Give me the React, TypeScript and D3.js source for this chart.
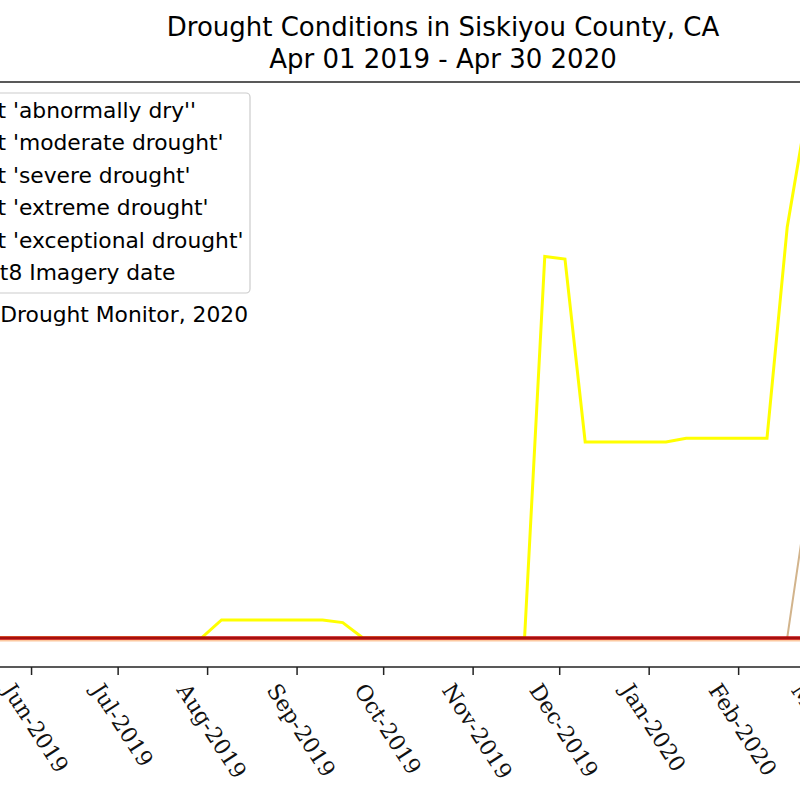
import React, { useEffect, useRef } from 'react';
import * as d3 from 'd3';

// weekly US Drought Monitor dates (Tuesdays)
const weekDates = [
  '2019-04-02', '2019-04-09', '2019-04-16', '2019-04-23', '2019-04-30',
  '2019-05-07', '2019-05-14', '2019-05-21', '2019-05-28',
  '2019-06-04', '2019-06-11', '2019-06-18', '2019-06-25',
  '2019-07-02', '2019-07-09', '2019-07-16', '2019-07-23', '2019-07-30',
  '2019-08-06', '2019-08-13', '2019-08-20', '2019-08-27',
  '2019-09-03', '2019-09-10', '2019-09-17', '2019-09-24',
  '2019-10-01', '2019-10-08', '2019-10-15', '2019-10-22', '2019-10-29',
  '2019-11-05', '2019-11-12', '2019-11-19', '2019-11-26',
  '2019-12-03', '2019-12-10', '2019-12-17', '2019-12-24', '2019-12-31',
  '2020-01-07', '2020-01-14', '2020-01-21', '2020-01-28',
  '2020-02-04', '2020-02-11', '2020-02-18', '2020-02-25',
];

// percent of county area in each category
const abnormallyDry = [
  0, 0, 0, 0, 0,
  0, 0, 0, 0,
  0, 0, 0, 0,
  0, 0, 0, 0, 0,
  3.4, 3.4, 3.4, 3.4,
  3.4, 3.4, 2.9, 0,
  0, 0, 0, 0, 0,
  0, 0, 0, 72,
  71.5, 37, 37, 37, 37,
  37, 37.7, 37.7, 37.7,
  37.7, 37.7, 77.5, 100,
];
const moderateDrought = [
  0, 0, 0, 0, 0,
  0, 0, 0, 0,
  0, 0, 0, 0,
  0, 0, 0, 0, 0,
  0, 0, 0, 0,
  0, 0, 0, 0,
  0, 0, 0, 0, 0,
  0, 0, 0, 0,
  0, 0, 0, 0, 0,
  0, 0, 0, 0,
  0, 0, 0, 26,
];
const severeDrought = weekDates.map(() => 0);
const extremeDrought = weekDates.map(() => 0);
const exceptionalDrought = weekDates.map(() => 0);

const seriesLabels = [
  "Percent 'abnormally dry''",
  "Percent 'moderate drought'",
  "Percent 'severe drought'",
  "Percent 'extreme drought'",
  "Percent 'exceptional drought'",
];
const seriesColors = ['#ffff00', '#d2b48c', '#fcc8a0', '#ff0000', '#a50f0f'];
const imageryLabel = 'Landsat8 Imagery date';

const monthTicks = [
  '2019-06-01', '2019-07-01', '2019-08-01', '2019-09-01', '2019-10-01',
  '2019-11-01', '2019-12-01', '2020-01-01', '2020-02-01', '2020-03-01',
];

const App: React.FC = () => {
  const ref = useRef<SVGSVGElement>(null);

  useEffect(() => {
    const svg = d3.select(ref.current);
    svg.selectAll('*').remove();

    const parse = d3.timeParse('%Y-%m-%d');
    const dates = weekDates.map(d => parse(d) as Date);

    const top = 82;
    const bottom = 667;

    const x = d3.scaleTime()
      .domain([parse('2019-04-01') as Date, parse('2020-04-30') as Date])
      .range([-145, 995]);
    const y = d3.scaleLinear().domain([0, 100]).range([638, 108]);

    // title
    const title = svg.append('g')
      .attr('font-family', "'DejaVu Sans', sans-serif")
      .attr('font-size', 26)
      .attr('text-anchor', 'middle')
      .attr('fill', '#000');
    title.append('text').attr('x', 443).attr('y', 36).text('Drought Conditions in Siskiyou County, CA');
    title.append('text').attr('x', 443).attr('y', 68).text('Apr 01 2019 - Apr 30 2020');

    // lines
    const series = [abnormallyDry, moderateDrought, severeDrought, extremeDrought, exceptionalDrought];
    const widths = [3, 2, 3, 3, 3];
    const offsets = [0, 0, 2, 0, 0]; // severe line peeks out just under the red ones at zero
    const line = d3.line<number>()
      .x((d, i) => x(dates[i]))
      .y(d => y(d));

    series.forEach((vals, k) => {
      svg.append('path')
        .attr('d', line(vals) as string)
        .attr('transform', `translate(0,${offsets[k]})`)
        .attr('fill', 'none')
        .attr('stroke', seriesColors[k])
        .attr('stroke-width', widths[k])
        .attr('stroke-linejoin', 'miter');
    });

    // spines
    [top, bottom].forEach(yy => {
      svg.append('line')
        .attr('x1', -10).attr('x2', 810)
        .attr('y1', yy).attr('y2', yy)
        .attr('stroke', '#222')
        .attr('stroke-width', 1.5);
    });

    // x axis
    const tickLen = 8;
    const axis = svg.append('g')
      .attr('transform', `translate(0,${bottom})`)
      .call(d3.axisBottom(x)
        .tickValues(monthTicks.map(d => parse(d) as Date))
        .tickFormat(d3.timeFormat('%b-%Y') as any)
        .tickSize(tickLen));
    axis.select('.domain').remove();
    axis.selectAll('.tick line').attr('stroke', '#222').attr('stroke-width', 1.5);

    const angle = 57;
    const rad = (angle * Math.PI) / 180;
    const h = 22;
    axis.selectAll<SVGTextElement, Date>('.tick text')
      .attr('font-family', "'DejaVu Serif', serif")
      .attr('font-size', 22)
      .attr('fill', '#111')
      .attr('text-anchor', 'middle')
      .attr('dominant-baseline', 'central')
      .attr('x', 0)
      .attr('y', 0)
      .attr('dy', null)
      .each(function () {
        const L = this.getComputedTextLength();
        const cy = tickLen + 5 + (L * Math.sin(rad) + h * Math.cos(rad)) / 2;
        d3.select(this).attr('transform', `translate(4,${cy}) rotate(${angle})`);
      });

    // legend
    const legendFont = 21.8;
    const legend = svg.append('g')
      .attr('font-family', "'DejaVu Sans', sans-serif")
      .attr('font-size', legendFont)
      .attr('fill', '#000');
    legend.append('rect')
      .attr('x', -160).attr('y', 93)
      .attr('width', 410).attr('height', 200)
      .attr('rx', 4)
      .attr('fill', '#fff').attr('fill-opacity', 0.8)
      .attr('stroke', '#cccccc').attr('stroke-width', 1.2);

    const rowY = (i: number) => 110 + i * 32.5;
    seriesLabels.forEach((label, i) => {
      legend.append('line')
        .attr('x1', -150).attr('x2', -110)
        .attr('y1', rowY(i)).attr('y2', rowY(i))
        .attr('stroke', seriesColors[i]).attr('stroke-width', widths[i]);
      legend.append('text')
        .attr('x', -76).attr('y', rowY(i))
        .attr('dominant-baseline', 'central')
        .text(label);
    });
    legend.append('line')
      .attr('x1', -150).attr('x2', -110)
      .attr('y1', rowY(5)).attr('y2', rowY(5))
      .attr('stroke', '#000').attr('stroke-width', 2).attr('stroke-dasharray', '6,4');
    legend.append('text')
      .attr('x', -78).attr('y', rowY(5))
      .attr('dominant-baseline', 'central')
      .text(imageryLabel);

    svg.append('text')
      .attr('x', 248).attr('y', 314)
      .attr('dominant-baseline', 'central')
      .attr('text-anchor', 'end')
      .attr('font-family', "'DejaVu Sans', sans-serif")
      .attr('font-size', legendFont)
      .attr('fill', '#000')
      .text('Source: U.S. Drought Monitor, 2020');
  }, []);

  return (
    <svg
      ref={ref}
      width={800}
      height={800}
      style={{ position: 'absolute', left: 0, top: 0, background: '#fff' }}
    />
  );
};

export default App;
